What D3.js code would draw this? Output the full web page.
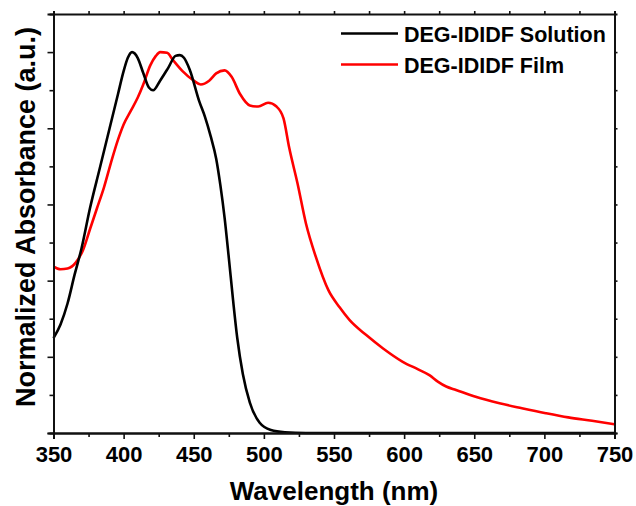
<!DOCTYPE html>
<meta charset="utf-8">
<script src="https://d3js.org/d3.v7.min.js"></script>
<style>
  body { margin: 0; background: #fff; }
  text { font-family: "Liberation Sans", Arial, sans-serif; font-weight: bold; fill: #000; }
</style>
<svg id="chart" width="636" height="506"></svg>
<script>
// wavelength (nm) / normalized absorbance
var solWl  = [350, 355, 360, 365, 370, 376, 383, 390, 396, 400, 403, 406, 410, 414, 418, 421, 426, 432, 437, 440, 443, 447, 454, 458, 462, 466, 469, 472, 475, 478, 481, 485, 490, 497, 505, 515, 530, 750];
var solAbs = [0.249, 0.285, 0.34, 0.415, 0.485, 0.59, 0.695, 0.80, 0.89, 0.95, 0.985, 1.0, 0.985, 0.945, 0.907, 0.90, 0.925, 0.96, 0.99, 0.992, 0.985, 0.955, 0.87, 0.83, 0.78, 0.72, 0.65, 0.565, 0.46, 0.35, 0.25, 0.155, 0.08, 0.027, 0.008, 0.002, 0, 0];

var filmWl  = [350, 355, 360, 366, 371, 376, 381, 386, 391, 396, 400, 405, 410, 414, 419, 423, 426, 431, 435, 442, 450, 455, 461, 466, 472, 477, 483, 490, 496, 503, 509, 514, 518, 524, 530, 537, 546, 554, 561, 573, 585, 599, 610, 618, 624, 630, 637, 651, 668, 684, 701, 717, 734, 750];
var filmAbs = [0.437, 0.43, 0.432, 0.448, 0.48, 0.535, 0.59, 0.645, 0.71, 0.77, 0.81, 0.845, 0.88, 0.915, 0.965, 0.99, 1.0, 0.998, 0.98, 0.95, 0.925, 0.915, 0.925, 0.944, 0.952, 0.935, 0.89, 0.86, 0.857, 0.867, 0.857, 0.826, 0.75, 0.655, 0.55, 0.463, 0.375, 0.33, 0.297, 0.257, 0.222, 0.187, 0.167, 0.152, 0.135, 0.122, 0.113, 0.095, 0.078, 0.065, 0.052, 0.041, 0.032, 0.023];

var seriesNames = ["DEG-IDIDF Solution", "DEG-IDIDF Film"];
var seriesColors = ["#000000", "#ff0000"];

var xMajor = [350, 400, 450, 500, 550, 600, 650, 700, 750];
var xMinor = [375, 425, 475, 525, 575, 625, 675, 725];
var yMajor = [0, 0.2, 0.4, 0.6, 0.8, 1.0];
var yMinor = [0.1, 0.3, 0.5, 0.7, 0.9];

var plotLeft = 53.5, plotRight = 614.5, plotTop = 14, plotBottom = 433;

var x = d3.scaleLinear().domain([350, 750]).range([plotLeft, plotRight]);
var y = d3.scaleLinear().domain([0, 1.1]).range([plotBottom, plotTop]);

var svg = d3.select("#chart");

// curves
var line = d3.line()
    .x(function(d) { return x(d[0]); })
    .y(function(d) { return y(d[1]); })
    .curve(d3.curveMonotoneX);

var solData = d3.zip(solWl, solAbs);
var filmData = d3.zip(filmWl, filmAbs);

svg.append("path").datum(filmData)
    .attr("d", line).attr("fill", "none")
    .attr("stroke", seriesColors[1]).attr("stroke-width", 2.6);

svg.append("path").datum(solData)
    .attr("d", line).attr("fill", "none")
    .attr("stroke", seriesColors[0]).attr("stroke-width", 2.6);

// axes
function styleAxis(g) {
    g.attr("font-family", null).attr("font-size", null);
    g.select(".domain").attr("stroke", "#111").attr("stroke-width", 2);
    g.selectAll(".tick line").attr("stroke", "#111").attr("stroke-width", 1.6);
    g.selectAll(".tick text").style("font-size", "22px");
}

svg.append("g").attr("transform", "translate(0," + plotBottom + ")")
    .call(d3.axisBottom(x).tickValues(xMajor).tickSize(6).tickPadding(7).tickFormat(d3.format("d")))
    .call(styleAxis);
svg.append("g").attr("transform", "translate(0," + plotBottom + ")")
    .call(d3.axisBottom(x).tickValues(xMinor).tickSize(4).tickFormat(""))
    .call(styleAxis);

svg.append("g").attr("transform", "translate(" + plotLeft + ",0)")
    .call(d3.axisLeft(y).tickValues(yMajor).tickSize(6).tickFormat(""))
    .call(styleAxis);
svg.append("g").attr("transform", "translate(" + plotLeft + ",0)")
    .call(d3.axisLeft(y).tickValues(yMinor).tickSize(4).tickFormat(""))
    .call(styleAxis);

svg.append("g").attr("transform", "translate(0," + plotTop + ")")
    .call(d3.axisTop(x).tickValues(xMajor.concat(xMinor)).tickSize(3).tickFormat(""))
    .call(styleAxis);
svg.append("g").attr("transform", "translate(" + plotRight + ",0)")
    .call(d3.axisRight(y).tickValues(yMajor.concat(yMinor)).tickSize(3).tickFormat(""))
    .call(styleAxis);

// axis titles
svg.append("text")
    .attr("x", 334)
    .attr("y", 500)
    .attr("text-anchor", "middle")
    .style("font-size", "26px")
    .text("Wavelength (nm)");

svg.append("text")
    .attr("transform", "translate(35,217) rotate(-90)")
    .attr("text-anchor", "middle")
    .style("font-size", "27px")
    .text("Normalized Absorbance (a.u.)");

// legend
var legend = svg.append("g").attr("transform", "translate(341,33.5)");
seriesNames.forEach(function(name, i) {
    var row = legend.append("g").attr("transform", "translate(0," + (i * 31) + ")");
    row.append("line").attr("x1", 0).attr("x2", 57).attr("y1", 0).attr("y2", 0)
        .attr("stroke", seriesColors[i]).attr("stroke-width", 2.6);
    row.append("text").attr("x", 63).attr("y", 8)
        .style("font-size", "21.5px").text(name);
});
</script>
